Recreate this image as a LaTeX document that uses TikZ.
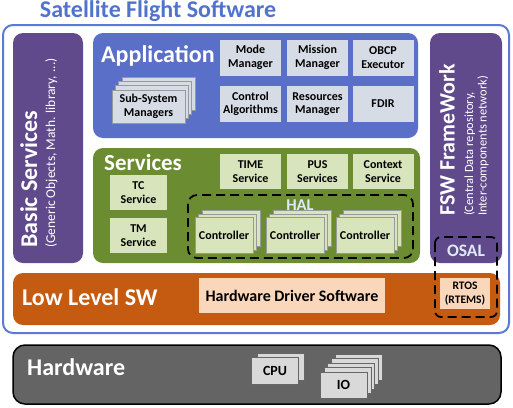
\documentclass[tikz,border=0pt]{standalone}
\usepackage{fontspec}
\setmainfont{Carlito}
\definecolor{framecol}{RGB}{92,122,212}
\definecolor{titlecol}{RGB}{80,115,205}
\definecolor{appcol}{RGB}{90,112,200}
\definecolor{purplecol}{RGB}{96,74,140}
\definecolor{greencol}{RGB}{108,140,50}
\definecolor{orangecol}{RGB}{197,90,17}
\definecolor{appfill}{RGB}{214,220,229}
\definecolor{svcfill}{RGB}{216,228,188}
\definecolor{peachfill}{RGB}{250,214,186}
\definecolor{hwcol}{RGB}{100,100,100}
\definecolor{hwfill}{RGB}{217,217,217}
\definecolor{palecol}{RGB}{221,235,247}

\begin{document}
\begin{tikzpicture}[x=1pt,y=-1pt,
    region/.style={rounded corners=10pt},
    biglabel/.style={text=white,inner sep=0pt,font=\bfseries\fontsize{24}{26}\selectfont},
    cell/.style={inner sep=1pt,align=center,minimum width=61pt,minimum height=36pt,
      font=\bfseries\fontsize{12}{13.5}\selectfont},
    appcell/.style={cell,fill=appfill},
    svccell/.style={cell,fill=svcfill,minimum height=35pt},
    layer/.style={cell,draw=black!40,line width=0.5pt},
    hwlayer/.style={layer,fill=hwfill,draw=black!60,minimum width=47pt,
      font=\bfseries\fontsize{14}{16}\selectfont},
    halline/.style={dash pattern=on 9pt off 5pt,line width=1.8pt,rounded corners=9pt}]
  \useasboundingbox (0,0) rectangle (513,407);

  % title and frame of the flight software
  \node[text=titlecol,font=\bfseries\fontsize{24}{26}\selectfont] (title) at (158,11) {Satellite Flight Software};
  \draw[framecol,line width=2pt,region] (3,25) rectangle (509,333);

  % basic services
  \fill[purplecol,region] (13,33) rectangle (83,263);
  \node[rotate=90,anchor=north west,align=left,text=white,inner sep=0pt,
    font=\fontsize{13.5}{14}\selectfont] (basic) at (20,248)
    {{\bfseries\fontsize{24}{24}\selectfont Basic Services}\\[4pt]
     (Generic Objects, Math. library, ...)};

  % application
  \fill[appcol,region] (93,33) rectangle (418,138);
  \node[biglabel,anchor=west] (app) at (101,56) {Application};
  \node[appcell] (mode) at (250.5,57.5) {Mode\\Manager};
  \node[appcell] (mission) at (317.5,57.5) {Mission\\Manager};
  \node[appcell] (obcp) at (383,57.5) {OBCP\\Executor};
  \node[appcell] (ctrlalg) at (250.5,104) {Control\\Algorithms};
  \node[appcell] (resman) at (317.5,104) {Resources\\Manager};
  \node[appcell] (fdir) at (383,104) {FDIR};
  \foreach \k in {3,2,1}
    \node[layer,fill=appfill,minimum width=73pt,minimum height=33pt] (ssm-\k) at (148.5+3.3*\k,106.5-4.3*\k) {};
  \node[layer,fill=appfill,minimum width=73pt,minimum height=33pt] (ssm) at (148.5,106.5) {Sub-System\\Managers};

  % services
  \fill[greencol,region] (93,148) rectangle (420,263);
  \node[biglabel,anchor=west,font=\bfseries\fontsize{23}{26}\selectfont] (svc) at (104,163) {Services};
  \node[svccell,minimum width=57pt] (tc) at (138.5,192.5) {TC\\Service};
  \node[svccell,minimum width=57pt] (tm) at (138.5,235.5) {TM\\Service};
  \node[svccell] (time) at (250.5,171.5) {TIME\\Service};
  \node[svccell] (pus) at (317.5,171.5) {PUS\\Services};
  \node[svccell] (context) at (383,171.5) {Context\\Service};

  % hardware abstraction layer
  \draw[halline] (188,195) rectangle (413,258);
  \node[text=palecol,font=\bfseries\fontsize{16.5}{18}\selectfont] (hal) at (300,205) {HAL};
  \foreach \c/\x in {ctrla/224,ctrlb/295,ctrlc/365}{
    \foreach \k in {2,1}
      \node[layer,fill=svcfill,minimum width=58pt] (\c-\k) at (\x+3.5*\k,235.5-3.5*\k) {};
    \node[layer,fill=svcfill,minimum width=58pt] (\c) at (\x,235.5) {Controller};
  }

  % framework
  \fill[purplecol,region] (430,33) rectangle (502,263);
  \node[rotate=90,anchor=north west,align=left,text=white,inner sep=0pt,
    font=\fontsize{12.5}{13.5}\selectfont] (fsw) at (439,216)
    {{\bfseries\fontsize{22}{22}\selectfont FSW FrameWork}\\[5pt]
     (Central Data repository,\\Inter-components network)};

  % low level software
  \fill[orangecol,region] (13,273) rectangle (500,325);
  \node[biglabel,anchor=west] (llsw) at (22,297) {Low Level SW};
  \node[fill=peachfill,minimum width=186pt,minimum height=35pt,inner sep=0pt,
    font=\bfseries\fontsize{16}{18}\selectfont] (hds) at (292,295.5) {Hardware Driver Software};
  \node[fill=peachfill,minimum width=50pt,minimum height=31pt,inner sep=0pt,align=center,
    font=\bfseries\fontsize{11.5}{13.5}\selectfont] (rtos) at (465,293.5) {RTOS\\(RTEMS)};

  % operating system abstraction
  \draw[halline,rounded corners=6pt] (435,237) rectangle (497,317);
  \node[text=palecol,font=\bfseries\fontsize{17.5}{19}\selectfont] (osal) at (466,251) {OSAL};

  % hardware
  \draw[fill=hwcol,line width=1.5pt,rounded corners=12pt] (13,345) rectangle (501,404);
  \node[biglabel,anchor=west] (hw) at (27,367) {Hardware};
  \node[hwlayer,minimum height=27pt] (cpu-1) at (281,366.5) {};
  \node[hwlayer,minimum height=27pt] (cpu) at (275,370.5) {CPU};
  \foreach \k in {4,3,2,1}
    \node[hwlayer,minimum height=26pt] (io-\k) at (343.5+3.75*\k,385-4.5*\k) {};
  \node[hwlayer,minimum height=26pt] (io) at (343.5,385) {IO};
\end{tikzpicture}
\end{document}
